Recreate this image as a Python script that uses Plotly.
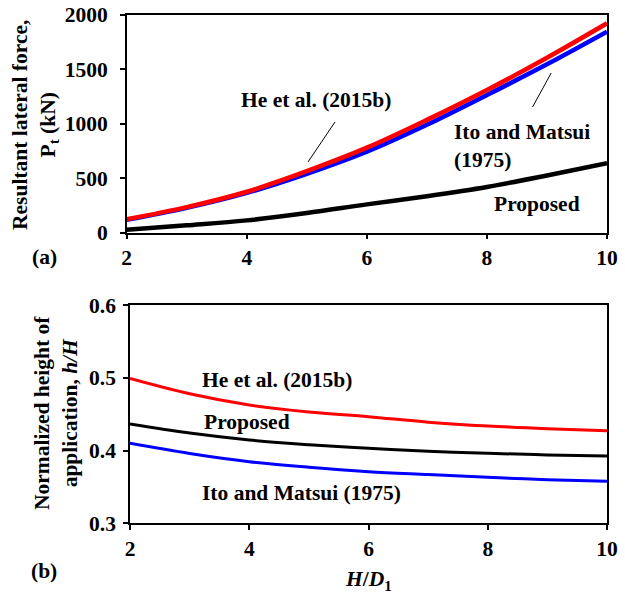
import plotly.graph_objects as go

# ---- data ----
hd = [2, 3, 4, 5, 6, 7, 8, 9, 10]

pt_he = [123, 235, 376, 565, 780, 1035, 1309, 1605, 1921]
pt_ito = [118, 228, 365, 540, 743, 990, 1263, 1545, 1844]
pt_prop = [28, 68, 113, 180, 260, 335, 420, 525, 637]

hh_he = [0.499, 0.478, 0.4626, 0.453, 0.4465, 0.439, 0.4337, 0.430, 0.4273]
hh_ito = [0.410, 0.396, 0.3847, 0.377, 0.371, 0.367, 0.3632, 0.360, 0.3577]
hh_prop = [0.4365, 0.424, 0.4145, 0.408, 0.403, 0.399, 0.3962, 0.394, 0.3925]

top_yticks = [0, 500, 1000, 1500, 2000]
bot_yticks = [0.3, 0.4, 0.5, 0.6]
xticks = [2, 4, 6, 8, 10]

W, H = 625, 595
FONT = "Liberation Serif, Times New Roman, serif"
FS = 21.5


def px(v):
    return v / W


def py(v):
    return 1 - v / H


fig = go.Figure()


def add(x, y, color, width, xa, ya):
    fig.add_trace(go.Scatter(x=x, y=y, mode="lines", line=dict(color=color, width=width, shape="spline"),
                             xaxis=xa, yaxis=ya, showlegend=False, hoverinfo="skip"))


add(hd, pt_prop, "black", 4.5, "x", "y")
add(hd, pt_ito, "#0000FF", 4.5, "x", "y")
add(hd, pt_he, "#FF0000", 4.5, "x", "y")
add(hd, hh_prop, "black", 3, "x2", "y2")
add(hd, hh_ito, "#0000FF", 3, "x2", "y2")
add(hd, hh_he, "#FF0000", 3, "x2", "y2")

axis_common = dict(showline=True, linecolor="black", linewidth=1.5, mirror=True, ticks="outside",
                   ticklen=5, tickwidth=1.5, tickcolor="black", showgrid=False, zeroline=False,
                   automargin=False, ticklabeloverflow="allow",
                   tickfont=dict(family=FONT, size=FS, color="black", weight="bold"))

fig.update_layout(
    width=W, height=H, margin=dict(l=0, r=0, t=0, b=0),
    paper_bgcolor="white", plot_bgcolor="white",
    font=dict(family=FONT, size=FS, color="black", weight="bold"),
    xaxis=dict(domain=[px(126.7), px(607)], range=[2, 10], tickvals=xticks, anchor="y", **axis_common),
    yaxis=dict(domain=[py(232.7), py(14.7)], range=[0, 2000], tickvals=top_yticks, anchor="x",
               ticklabelstandoff=8, **axis_common),
    xaxis2=dict(domain=[px(130), px(607)], range=[2, 10], tickvals=xticks, anchor="y2", **axis_common),
    yaxis2=dict(domain=[py(523.3), py(305)], range=[0.3, 0.6], tickvals=bot_yticks,
                tickformat=".1f", anchor="x2", ticklabelstandoff=3, **axis_common),
)

ann = []


def txt(text, x, y, xref, yref, xanchor="center", align="center", textangle=0):
    ann.append(dict(text=text, x=x, y=y, xref=xref, yref=yref, xanchor=xanchor, yanchor="middle",
                    showarrow=False, align=align, textangle=textangle,
                    font=dict(family=FONT, size=FS, color="black", weight="bold")))


# top panel labels
txt("He et al. (2015b)", 5.16, 1220, "x", "y")
txt("Ito and Matsui<br>(1975)", 7.42, 800, "x", "y", xanchor="left", align="left")
txt("Proposed", 8.84, 263, "x", "y")
# bottom panel labels
txt("He et al. (2015b)", 3.175, 0.497, "x2", "y2", xanchor="left")
txt("Proposed", 3.2, 0.4396, "x2", "y2", xanchor="left")
txt("Ito and Matsui (1975)", 3.175, 0.3412, "x2", "y2", xanchor="left")
# panel tags
txt("(a)", px(44), py(257), "paper", "paper")
txt("(b)", px(43.5), py(571), "paper", "paper")
# axis titles
txt("<i>H</i>/<i>D</i><sub>1</sub>", px(368), py(580), "paper", "paper")
txt("Resultant lateral force,<br>P<sub>t</sub> (kN)", px(35), py(125), "paper", "paper", textangle=-90)
txt("Normalized height of<br>application, <i>h/H</i>", px(55.5), py(413.5), "paper", "paper", textangle=-90)

fig.update_layout(annotations=ann)

# leader lines
fig.add_shape(type="line", x0=5.02, y0=649, x1=5.47, y1=1016, xref="x", yref="y",
              line=dict(color="black", width=1))
fig.add_shape(type="line", x0=8.76, y0=1153, x1=9.07, y1=1465, xref="x", yref="y",
              line=dict(color="black", width=1))

fig.write_html("out.html", config={"displayModeBar": False},
               post_script="document.body.style.margin='0px';document.body.style.overflow='hidden';")
